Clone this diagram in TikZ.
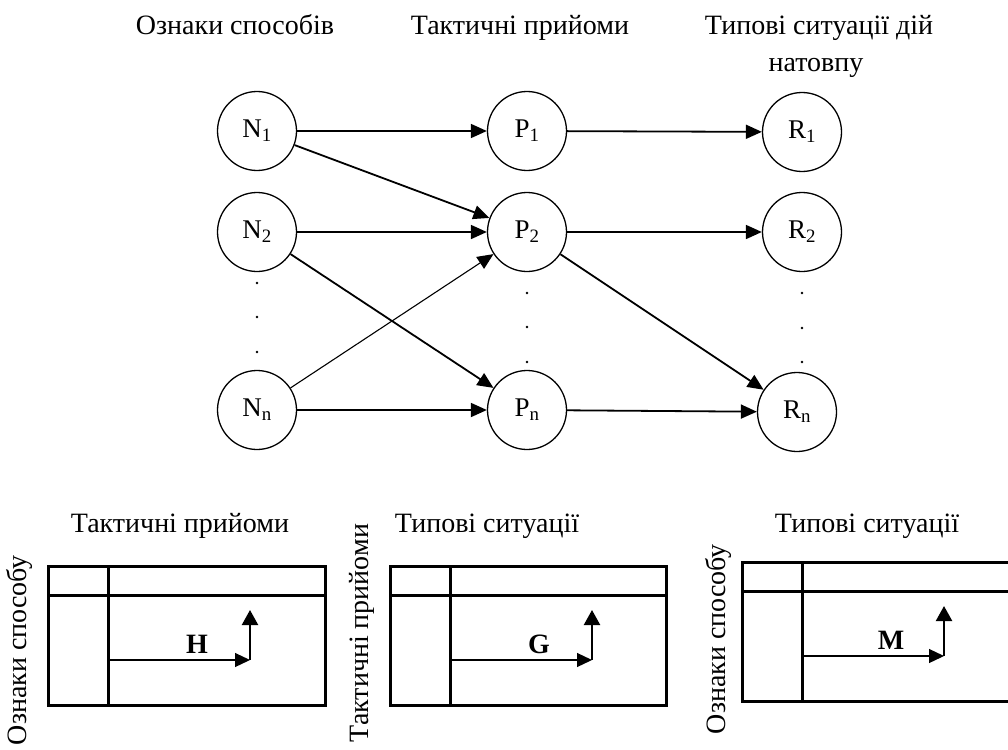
\documentclass[tikz,border=0pt]{standalone}
\usepackage{fontspec}
\setmainfont{Liberation Serif}
\usepackage{tikz}
\usetikzlibrary{arrows.meta, positioning}

\tikzset{
  state/.style={circle, draw, line width=1.3pt, minimum size=79pt, inner sep=0pt,
                font=\fontsize{27}{30}\selectfont},
  flow/.style={-{Triangle[length=16pt, width=14pt]}, line width=1.8pt},
  flowthin/.style={-{Triangle[length=15pt, width=14pt]}, line width=1.2pt},
  flowup/.style={-{Triangle[length=15pt, width=16pt]}, line width=2.2pt},
  title/.style={font=\fontsize{28}{37}\selectfont, align=center, anchor=base},
  sidetitle/.style={font=\fontsize{28}{37}\selectfont, rotate=90},
  grid/.style={line width=3pt},
  tag/.style={font=\fontsize{28}{30}\selectfont\bfseries}
}

\newcommand{\drawgrid}[4]{
  \pgfmathsetmacro{\xl}{#1}
  \pgfmathsetmacro{\yt}{#2}
  \pgfmathsetmacro{\xr}{#3}

  \draw[grid] (\xl, \yt) rectangle (\xr, \yt + 139);
  \draw[grid] (\xl, \yt + 29) -- (\xr, \yt + 29);
  \draw[grid] (\xl + 60, \yt) -- (\xl + 60, \yt + 139);

  \coordinate (o) at (\xl + 60, \yt + 94);
  \coordinate (c) at (\xl + 202, \yt + 94);
  \coordinate (u) at (\xl + 202, \yt + 44);
  \draw[flowthin] (o) -- (c);
  \draw[flowup] (c) -- (u);
  \node[tag] (t) at (\xl + 149, \yt + 78) {#4};
}

\begin{document}
\begin{tikzpicture}[x=1pt, y=-1pt]

  \useasboundingbox (0, 0) rectangle (1008, 749);

  \node[title] (hN) at (235, 35) {Ознаки способів};
  \node[title] (hP) at (520, 35) {Тактичні прийоми};
  \node[title] (hR) at (819, 35) {Типові ситуації дій};
  \node[title] (hR2) at (816, 72) {натовпу};

  \node[state] (N1) at (257, 131) {N\textsubscript{1}};
  \node[state] (N2) at (257, 232) {N\textsubscript{2}};
  \node[state] (Nn) at (257, 410) {N\textsubscript{n}};
  \node[state] (P1) at (527, 131) {P\textsubscript{1}};
  \node[state] (P2) at (527, 232) {P\textsubscript{2}};
  \node[state] (Pn) at (527, 410) {P\textsubscript{n}};
  \node[state] (R1) at (802, 132) {R\textsubscript{1}};
  \node[state] (R2) at (802, 232) {R\textsubscript{2}};
  \node[state] (Rn) at (797, 412) {R\textsubscript{n}};

  \foreach \x/\y in {257/283, 257/317, 257/352, 527/293, 527/327, 527/362,
                     802/293, 802/328, 802/362} {
    \fill (\x, \y) circle (1.4pt);
  }

  \draw[flow] (N1) -- (P1);
  \draw[flow] (N1) -- (P2);
  \draw[flow] (N2) -- (P2);
  \draw[flow] (N2) -- (Pn);
  \draw[flow, line width=1.1pt] (Nn) -- (P2);
  \draw[flow] (Nn) -- (Pn);
  \draw[flow] (P1) -- (R1);
  \draw[flow] (P2) -- (R2);
  \draw[flow] (P2) -- (Rn);
  \draw[flow] (Pn) -- (Rn);

  \node[title] (hH) at (180, 532) {Тактичні прийоми};
  \node[sidetitle] (vH) at (20, 650) {Ознаки способу};
  \drawgrid{48}{566}{325}{H}

  \node[title] (hG) at (487, 532) {Типові ситуації};
  \node[sidetitle] (vG) at (362, 633) {Тактичні прийоми};
  \drawgrid{390}{566}{666}{G}

  \node[title] (hM) at (867, 532) {Типові ситуації};
  \node[sidetitle] (vM) at (718, 639) {Ознаки способу};
  \drawgrid{742}{562}{1030}{M}

\end{tikzpicture}
\end{document}
